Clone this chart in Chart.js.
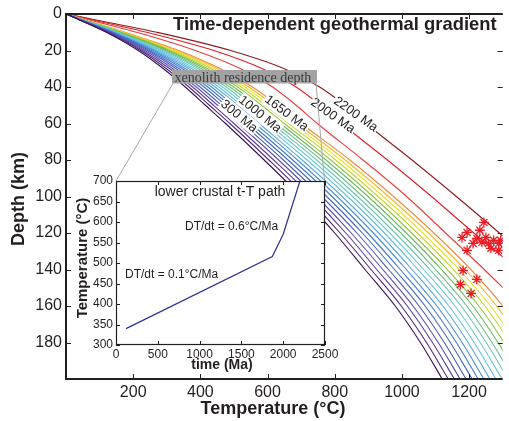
<!DOCTYPE html>
<html><head><meta charset="utf-8">
<script src="https://cdn.jsdelivr.net/npm/chart.js@4.4.0/dist/chart.umd.min.js"></script>
<style>
html,body{margin:0;padding:0;background:#fff;}
#wrap{position:relative;width:509px;height:421px;overflow:hidden;background:#fff;}
canvas{position:absolute;left:0;top:0;}
#inset{pointer-events:none;}
</style></head><body>
<div id="wrap"><canvas id="main" width="509" height="421" style="width:509px;height:421px"></canvas><canvas id="inset" width="509" height="421" style="width:509px;height:421px"></canvas></div>
<script>
// ---------- data ----------
const depthKm = [0,10,20,30,40,50,60,80,100,120,140,160,180,200];
const geo300  = [0,120,215,290,355,415,475,590,700,800,890,980,1055,1120];
const geo375  = [0,123,222,299,366,427,488,604,715,816,908,998,1073,1138];
const geo450  = [0,126,228,309,377,439,500,618,731,833,925,1016,1091,1156];
const geo525  = [0,129,235,318,388,451,513,633,746,849,943,1033,1108,1173];
const geo600  = [0,132,242,328,399,463,525,647,761,866,960,1051,1126,1191];
const geo675  = [0,135,248,337,411,475,538,661,776,882,978,1069,1144,1209];
const geo750  = [0,138,255,347,422,487,550,675,792,898,995,1087,1162,1227];
const geo825  = [0,141,262,356,433,499,563,689,807,915,1013,1104,1179,1244];
const geo900  = [0,144,268,366,444,511,575,703,822,931,1030,1122,1197,1262];
const geo975  = [0,148,275,375,455,522,588,718,838,948,1048,1140,1215,1280];
const geo1050 = [0,151,282,384,466,534,600,732,853,964,1065,1158,1233,1298];
const geo1125 = [0,154,288,394,477,546,613,746,868,980,1083,1176,1251,1316];
const geo1200 = [0,157,295,403,488,558,625,760,883,997,1100,1193,1268,1333];
const geo1275 = [0,160,302,413,499,570,638,774,899,1013,1118,1211,1286,1351];
const geo1350 = [0,163,308,422,511,582,650,788,914,1029,1135,1229,1304,1369];
const geo1425 = [0,166,315,432,522,594,663,803,929,1046,1153,1247,1322,1387];
const geo1500 = [0,169,322,441,533,606,675,817,944,1062,1170,1264,1339,1404];
const geo1575 = [0,172,328,451,544,618,688,831,960,1079,1188,1282,1357,1422];
const geo1650 = [0,175,335,460,555,630,700,845,975,1095,1205,1300,1375,1440];
const geo1850 = [0,210,385,520,615,685,748,884,1014,1130,1245,1355,1460,1560];
const geo2000 = [0,240,440,585,685,757,820,957,1088,1214,1345,1465,1580,1690];
const geo2200 = [0,270,490,650,755,830,893,1030,1162,1290,1415,1535,1650,1760];
const geotherms = [geo300,geo375,geo450,geo525,geo600,geo675,geo750,geo825,geo900,geo975,geo1050,
  geo1125,geo1200,geo1275,geo1350,geo1425,geo1500,geo1575,geo1650,geo1850,geo2000,geo2200];
const geoColors = ['#3c1053','#53287e','#5e3d99','#5a4fae','#4c5cb6','#4367c0','#3f78cc','#4a8fd6',
  '#5aaadf','#66c0e3','#6cccd3','#6cc6ae','#6abf88','#6bba60','#8dc63f','#c3d52f','#f0e024','#f6b72a',
  '#f08a3a','#ec3c3a','#e21f26','#8c1b1f'];

const starTemp  = [1244,1232,1194,1179,1212,1223,1250,1238,1258,1273,1288,1294,1265,1288,1194,1182,1223,1174,1206];
const starDepth = [114.2,118.5,119.7,122.4,125.7,123,122.4,125.1,125.7,124,125.7,124,128.4,129.5,129.5,140.5,145.4,148.2,153.1];

const curveLabels = ['300 Ma','1000 Ma','1650 Ma','2000 Ma','2200 Ma'];
const labelTemp  = [516,578,657,795,863];
const labelDepth = [55.9,54.8,54.2,55.6,54.8];

const pathTime = [120,1870,2000,2200];
const pathTemp = [340,516,570,700];

const xTickTemps = [200,400,600,800,1000,1200];
const yTickDepths = [0,20,40,60,80,100,120,140,160,180];
const insetXTicks = [0,500,1000,1500,2000,2500];
const insetYTicks = [300,350,400,450,500,550,600,650,700];

// ---------- styles ----------
const FONT = '"Liberation Sans", Arial, Helvetica, sans-serif';
const SERIF = '"Liberation Serif", "Times New Roman", serif';
const INK = '#231f20';
const labelAngles = [39.6,39,37,35.5,35.5];
const plain = v => String(v);

function line(ctx,x1,y1,x2,y2){ctx.beginPath();ctx.moveTo(x1,y1);ctx.lineTo(x2,y2);ctx.stroke();}

const datasets = [{
  data: starTemp.map((t,i)=>({x:t,y:starDepth[i]})),
  showLine:false, pointStyle:'star', pointRadius:5, pointBorderColor:'#ed1c24',
  pointBorderWidth:1.3, pointBackgroundColor:'#ed1c24'
}];
geotherms.forEach((arr,i)=>{
  datasets.push({
    data: arr.map((t,j)=>({x:t,y:depthKm[j]})),
    showLine:true, pointRadius:0, borderColor:geoColors[i], borderWidth:1.1,
    cubicInterpolationMode:'monotone', fill:false
  });
});

const mainDeco = {
  id:'mainDeco',
  afterDatasetsDraw(chart){
    const ctx = chart.ctx, xs = chart.scales.x, ys = chart.scales.y;
    ctx.save();
    ctx.font = '13px ' + FONT;
    curveLabels.forEach((txt,i)=>{
      const px = xs.getPixelForValue(labelTemp[i]), py = ys.getPixelForValue(labelDepth[i]);
      ctx.save();
      ctx.translate(px,py); ctx.rotate(labelAngles[i]*Math.PI/180);
      const w = ctx.measureText(txt).width;
      ctx.fillStyle = '#fff'; ctx.fillRect(-w/2-1,-7,w+2,14);
      ctx.fillStyle = INK; ctx.textAlign='center'; ctx.textBaseline='middle';
      ctx.fillText(txt,0,0.5);
      ctx.restore();
    });
    ctx.strokeStyle = '#a8a8a8'; ctx.lineWidth = 1;
    line(ctx,173,83.5,116,181);
    line(ctx,316,83.5,324.5,181);
    ctx.fillStyle = '#a3a3a3';
    ctx.fillRect(172,70,145,13.5);
    ctx.fillStyle = '#3a3a3a'; ctx.font = '14px ' + SERIF;
    ctx.textAlign='left'; ctx.textBaseline='alphabetic';
    ctx.fillText('xenolith residence depth',174.5,81.5);
    ctx.fillStyle = INK; ctx.font = 'bold 18.4px ' + FONT;
    ctx.fillText('Time-dependent geothermal gradient',173,30);
    ctx.restore();
  },
  afterDraw(chart){
    const ctx = chart.ctx, a = chart.chartArea, xs = chart.scales.x, ys = chart.scales.y;
    ctx.save();
    ctx.strokeStyle = INK; ctx.lineWidth = 1;
    xTickTemps.forEach(v=>{const p=Math.round(xs.getPixelForValue(v))+0.5; line(ctx,p,a.bottom,p,a.bottom-5); line(ctx,p,a.top,p,a.top+5);});
    yTickDepths.forEach(v=>{const p=Math.round(ys.getPixelForValue(v))+0.5; line(ctx,a.left,p,a.left+5,p); line(ctx,a.right,p,a.right-5,p);});
    ctx.lineWidth = 2;
    line(ctx,a.left,a.top,a.right,a.top);
    line(ctx,a.left,a.top-1,a.left,a.bottom+1);
    line(ctx,a.left-1,a.bottom,a.right,a.bottom);
    ctx.fillStyle = INK; ctx.font = 'bold 18px ' + FONT;
    ctx.textAlign='center'; ctx.textBaseline='alphabetic';
    ctx.fillText('Temperature (°C)',273,414);
    ctx.translate(24,199); ctx.rotate(-Math.PI/2);
    ctx.fillText('Depth (km)',0,0);
    ctx.restore();
  }
};

new Chart(document.getElementById('main'),{
  type:'scatter',
  data:{datasets},
  options:{
    responsive:false, animation:false, events:[],
    layout:{padding:{top:14,left:0,right:0,bottom:0}},
    plugins:{legend:{display:false},tooltip:{enabled:false}},
    scales:{
      x:{type:'linear',min:0,max:1300,
        grid:{display:false,drawTicks:false},border:{display:false},
        afterBuildTicks:s=>{s.ticks = xTickTemps.map(v=>({value:v}));},
        afterFit:s=>{s.height=42;},
        ticks:{padding:4,color:INK,font:{family:FONT,size:16},maxRotation:0,callback:plain}},
      y:{type:'linear',min:0,max:200,reverse:true,
        grid:{display:false,drawTicks:false},border:{display:false},
        afterBuildTicks:s=>{s.ticks = yTickDepths.map(v=>({value:v}));},
        afterFit:s=>{s.width=66;},
        ticks:{padding:4,color:INK,font:{family:FONT,size:16},callback:plain}}
    }
  },
  plugins:[mainDeco]
});

// ---------- inset ----------
const insetDeco = {
  id:'insetDeco',
  beforeDatasetsDraw(chart){
    const ctx=chart.ctx,a=chart.chartArea;
    ctx.save(); ctx.fillStyle='#fff'; ctx.fillRect(a.left,a.top,a.right-a.left,a.bottom-a.top); ctx.restore();
  },
  afterDraw(chart){
    const ctx=chart.ctx,a=chart.chartArea,xs=chart.scales.x,ys=chart.scales.y;
    ctx.save();
    ctx.strokeStyle=INK; ctx.lineWidth=1;
    insetXTicks.forEach(v=>{const p=Math.round(xs.getPixelForValue(v))+0.5; line(ctx,p,a.bottom,p,a.bottom-4); line(ctx,p,a.top,p,a.top+4);});
    insetYTicks.forEach(v=>{const p=Math.round(ys.getPixelForValue(v))+0.5; line(ctx,a.left,p,a.left+4,p); line(ctx,a.right,p,a.right-4,p);});
    ctx.lineWidth=1.2;
    ctx.strokeRect(a.left+0.5,a.top+0.5,a.right-a.left-1,a.bottom-a.top-1);
    ctx.fillStyle=INK; ctx.textBaseline='alphabetic';
    ctx.font='14px '+FONT; ctx.textAlign='center';
    ctx.fillText('lower crustal t-T path',220,195.5);
    ctx.font='12px '+FONT; ctx.textAlign='left';
    ctx.fillText('DT/dt = 0.6°C/Ma',185,230);
    ctx.fillText('DT/dt = 0.1°C/Ma',125,278);
    ctx.font='bold 14px '+FONT; ctx.textAlign='center';
    ctx.fillText('time (Ma)',222,369);
    ctx.font='bold 15px '+FONT;
    ctx.translate(87,258); ctx.rotate(-Math.PI/2);
    ctx.fillText('Temperature (°C)',0,0);
    ctx.restore();
  }
};

new Chart(document.getElementById('inset'),{
  type:'scatter',
  data:{datasets:[{
    data:pathTime.map((t,i)=>({x:t,y:pathTemp[i]})),
    showLine:true,pointRadius:0,borderColor:'#2e3192',borderWidth:1.2,tension:0
  }]},
  options:{
    responsive:false,animation:false,events:[],
    layout:{padding:{top:181,left:0,right:184,bottom:0}},
    plugins:{legend:{display:false},tooltip:{enabled:false}},
    scales:{
      x:{type:'linear',min:0,max:2500,
        grid:{display:false,drawTicks:false},border:{display:false},
        afterBuildTicks:s=>{s.ticks = insetXTicks.map(v=>({value:v}));},
        afterFit:s=>{s.height=76;},
        ticks:{padding:2,color:INK,font:{family:FONT,size:12},maxRotation:0,callback:plain}},
      y:{type:'linear',min:300,max:700,
        grid:{display:false,drawTicks:false},border:{display:false},
        afterBuildTicks:s=>{s.ticks = insetYTicks.map(v=>({value:v}));},
        afterFit:s=>{s.width=116;},
        ticks:{padding:3,color:INK,font:{family:FONT,size:12},callback:plain}}
    }
  },
  plugins:[insetDeco]
});
</script>
</body></html>
